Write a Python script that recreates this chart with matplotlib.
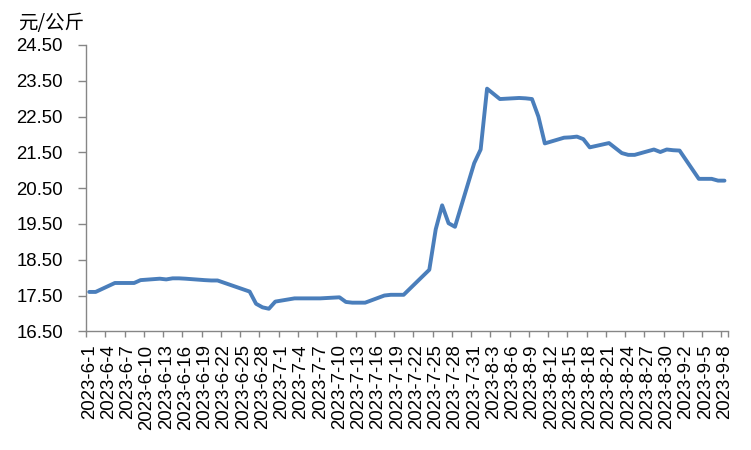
import matplotlib
matplotlib.use("Agg")
import matplotlib.pyplot as plt
import pandas as pd

# ---- data ----
dates = ["6-1", "6-2", "6-5", "6-6", "6-7", "6-8", "6-9", "6-12", "6-13", "6-14",
         "6-15", "6-16", "6-19", "6-20", "6-21", "6-26", "6-27", "6-28", "6-29", "6-30",
         "7-3", "7-4", "7-5", "7-6", "7-7", "7-10", "7-11", "7-12", "7-13", "7-14",
         "7-17", "7-18", "7-19", "7-20", "7-24", "7-25", "7-26", "7-27", "7-28", "7-31",
         "8-1", "8-2", "8-4", "8-7", "8-8", "8-9", "8-10", "8-11", "8-14", "8-15",
         "8-16", "8-17", "8-18", "8-21", "8-22", "8-23", "8-24", "8-25", "8-28", "8-29",
         "8-30", "8-31", "9-1", "9-4", "9-5", "9-6", "9-7", "9-8"]
prices = [17.60, 17.60, 17.85, 17.85, 17.85, 17.85, 17.93, 17.97, 17.95, 17.98,
          17.98, 17.97, 17.93, 17.92, 17.92, 17.61, 17.27, 17.17, 17.13, 17.33,
          17.42, 17.42, 17.42, 17.42, 17.42, 17.45, 17.32, 17.30, 17.30, 17.30,
          17.50, 17.52, 17.52, 17.52, 18.22, 19.35, 20.02, 19.52, 19.42, 21.20,
          21.58, 23.28, 22.99, 23.02, 23.01, 22.99, 22.50, 21.75, 21.91, 21.92,
          21.94, 21.87, 21.64, 21.76, 21.62, 21.48, 21.43, 21.43, 21.58, 21.51,
          21.58, 21.56, 21.55, 20.76, 20.76, 20.76, 20.71, 20.71]

tick_labels = ["2023-6-1", "2023-6-4", "2023-6-7", "2023-6-10", "2023-6-13", "2023-6-16",
               "2023-6-19", "2023-6-22", "2023-6-25", "2023-6-28", "2023-7-1", "2023-7-4",
               "2023-7-7", "2023-7-10", "2023-7-13", "2023-7-16", "2023-7-19", "2023-7-22",
               "2023-7-25", "2023-7-28", "2023-7-31", "2023-8-3", "2023-8-6", "2023-8-9",
               "2023-8-12", "2023-8-15", "2023-8-18", "2023-8-21", "2023-8-24", "2023-8-27",
               "2023-8-30", "2023-9-2", "2023-9-5", "2023-9-8"]
y_ticks = [16.5, 17.5, 18.5, 19.5, 20.5, 21.5, 22.5, 23.5, 24.5]
unit_label = "元/公斤"

start = pd.Timestamp("2023-06-01")
end = pd.Timestamp("2023-09-08")
x = [(pd.Timestamp("2023-" + d) - start).days for d in dates]
lab_pos = [(pd.Timestamp(t) - start).days for t in tick_labels]
n_days = (end - start).days + 1

plt.rcParams['font.family'] = ['Liberation Sans', 'Noto Sans CJK SC', 'DejaVu Sans']

fig = plt.figure(figsize=(7.51, 4.5), dpi=100)
ax = fig.add_axes([86 / 751, 1 - 331.3 / 450, (727.7 - 86) / 751, (331.3 - 45) / 450])

ax.plot(x, prices, color="#4a7ebb", linewidth=2.8, solid_joinstyle="round",
        solid_capstyle="round")

ax.set_xlim(-0.5, n_days - 0.5)
ax.set_ylim(16.5, 24.5)

spine_c = "#868686"
for s in ["top", "right"]:
    ax.spines[s].set_visible(False)
for s in ["left", "bottom"]:
    ax.spines[s].set_color(spine_c)
    ax.spines[s].set_linewidth(1.0)

ax.set_yticks(y_ticks)
ax.set_yticklabels([f"{v:.2f}" for v in y_ticks])
ax.tick_params(axis="y", length=5.5, width=1, color=spine_c, labelsize=13.4, pad=11,
               labelcolor="black")

# major ticks at category boundaries, labels at category centres
ax.set_xticks([p - 0.5 for p in lab_pos] + [n_days - 0.5])
ax.set_xticklabels([])
ax.set_xticks(lab_pos, minor=True)
ax.set_xticklabels(tick_labels, minor=True, rotation=90, fontsize=13.4)
ax.tick_params(axis="x", which="major", length=4.5, width=1, color=spine_c)
ax.tick_params(axis="x", which="minor", length=0, pad=9.5, labelcolor="black")

fig.text(18 / 751, 1 - 12.5 / 450, unit_label, fontsize=14, va="top", ha="left",
         family=['Noto Sans CJK SC', 'DejaVu Sans'])

fig.savefig("out.png", dpi=100)
